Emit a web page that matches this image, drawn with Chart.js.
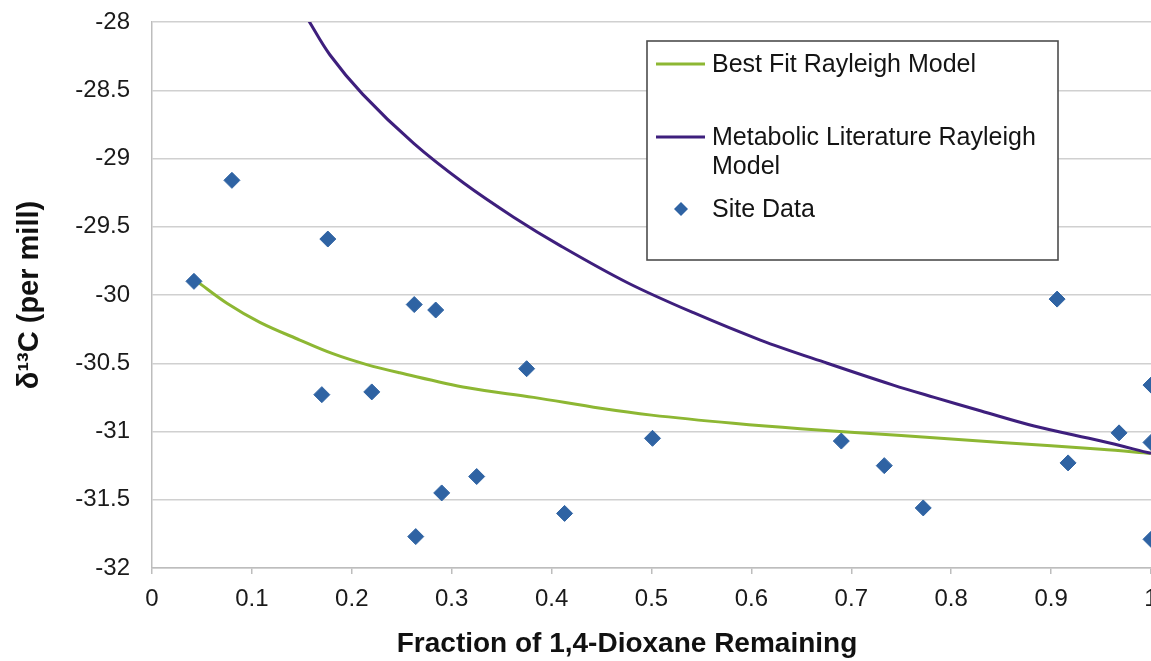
<!DOCTYPE html>
<html><head><meta charset="utf-8">
<script src="https://cdn.jsdelivr.net/npm/chart.js@4/dist/chart.umd.min.js"></script>
<style>
html,body{margin:0;padding:0;background:#fff;overflow:hidden;}
#wrap{position:relative;width:1160px;height:661px;}
</style></head><body>
<div id="wrap"><canvas id="c"></canvas></div>
<script>
// ---- data ----
const siteX = [0.042, 0.080, 0.176, 0.170, 0.220, 0.2625, 0.284, 0.264, 0.290, 0.325, 0.375, 0.413, 0.501, 0.690, 0.733, 0.772, 0.906, 0.917, 0.968, 1.0, 1.0, 1.0];
const siteY = [-29.90, -29.16, -29.59, -30.73, -30.71, -30.07, -30.11, -31.77, -31.45, -31.33, -30.54, -31.60, -31.05, -31.07, -31.25, -31.56, -30.03, -31.23, -31.01, -30.66, -31.08, -31.79];

const fitX = [0.045, 0.075, 0.108, 0.148, 0.181, 0.215, 0.248, 0.316, 0.382, 0.449, 0.500, 0.582, 0.649, 0.750, 0.850, 0.950, 1.000];
const fitY = [-29.90, -30.06, -30.20, -30.33, -30.43, -30.51, -30.57, -30.68, -30.75, -30.83, -30.88, -30.94, -30.98, -31.03, -31.08, -31.13, -31.16];

const litX = [0.156, 0.178, 0.211, 0.262, 0.312, 0.362, 0.409, 0.476, 0.542, 0.609, 0.676, 0.742, 0.783, 0.830, 0.883, 0.950, 1.000];
const litY = [-27.98, -28.24, -28.53, -28.89, -29.18, -29.43, -29.64, -29.91, -30.13, -30.33, -30.50, -30.66, -30.75, -30.85, -30.96, -31.07, -31.16];

const xTickValues = [0, 0.1, 0.2, 0.3, 0.4, 0.5, 0.6, 0.7, 0.8, 0.9, 1];
const yTickValues = [-32, -31.5, -31, -30.5, -30, -29.5, -29, -28.5, -28];

const seriesNames = ['Best Fit Rayleigh Model', 'Metabolic Literature Rayleigh Model', 'Site Data'];
const legendLines = [['Best Fit Rayleigh Model'], ['Metabolic Literature Rayleigh', 'Model'], ['Site Data']];
const xTitle = 'Fraction of 1,4-Dioxane Remaining';
const yTitle = 'δ¹³C (per mill)';

const GREEN = '#8db733';
const PURPLE = '#3e1f7d';
const BLUE = '#2f63a3';
const FONT = '"Liberation Sans", Arial, sans-serif';

const pts = (xs, ys) => xs.map((x, i) => ({x: x, y: ys[i]}));

function diamond(ctx, x, y, r) {
  ctx.beginPath();
  ctx.moveTo(x, y - r); ctx.lineTo(x + r, y); ctx.lineTo(x, y + r); ctx.lineTo(x - r, y);
  ctx.closePath(); ctx.fill();
}

const boxLegend = {
  id: 'boxLegend',
  afterDraw(chart) {
    const ctx = chart.ctx;
    ctx.save();
    // x-axis title (Excel centres it slightly left of the plot centre)
    ctx.font = 'bold 28px ' + FONT;
    ctx.fillStyle = '#111';
    ctx.textAlign = 'center';
    ctx.textBaseline = 'alphabetic';
    ctx.fillText(xTitle, 627, 652);
    // legend box
    ctx.fillStyle = '#ffffff';
    ctx.fillRect(647, 41, 411, 219);
    ctx.strokeStyle = '#4d4d4d';
    ctx.lineWidth = 1.6;
    ctx.strokeRect(647, 41, 411, 219);
    ctx.font = '25px ' + FONT;
    ctx.fillStyle = '#141414';
    ctx.textBaseline = 'middle';
    ctx.textAlign = 'left';
    ctx.strokeStyle = GREEN; ctx.lineWidth = 3;
    ctx.beginPath(); ctx.moveTo(656, 64); ctx.lineTo(705, 64); ctx.stroke();
    ctx.fillText(legendLines[0][0], 712, 65);
    ctx.strokeStyle = PURPLE; ctx.lineWidth = 3;
    ctx.beginPath(); ctx.moveTo(656, 137); ctx.lineTo(705, 137); ctx.stroke();
    ctx.fillText(legendLines[1][0], 712, 138);
    ctx.fillText(legendLines[1][1], 712, 167);
    ctx.fillStyle = BLUE;
    diamond(ctx, 681, 209, 7);
    ctx.fillStyle = '#141414';
    ctx.fillText(legendLines[2][0], 712, 210);
    ctx.restore();
  }
};

new Chart(document.getElementById('c'), {
  type: 'scatter',
  data: {
    datasets: [
      { label: seriesNames[0], data: pts(fitX, fitY), showLine: true, borderColor: GREEN, borderWidth: 3,
        pointRadius: 0, pointHoverRadius: 0, tension: 0.35, fill: false, order: 2 },
      { label: seriesNames[1], data: pts(litX, litY), showLine: true, borderColor: PURPLE, borderWidth: 3,
        pointRadius: 0, pointHoverRadius: 0, tension: 0.35, fill: false, order: 1 },
      { label: seriesNames[2], data: pts(siteX, siteY), showLine: false, pointStyle: 'rectRot',
        pointRadius: 8, pointHoverRadius: 8, backgroundColor: BLUE, borderColor: BLUE, borderWidth: 1, order: 0 }
    ]
  },
  options: {
    responsive: true,
    maintainAspectRatio: false,
    animation: false,
    events: [],
    layout: { padding: { top: 22, left: 0, right: 1, bottom: 0 } },
    plugins: { legend: { display: false }, tooltip: { enabled: false } },
    scales: {
      x: {
        type: 'linear', min: 0, max: 1,
        afterBuildTicks: (s) => { s.ticks = xTickValues.map(v => ({value: v})); },
        afterFit: (s) => { s.height = 93; s.paddingLeft = 0; s.paddingRight = 0; },
        grid: { display: true, drawOnChartArea: false, drawTicks: true, tickLength: 6, color: '#bdbdbd', lineWidth: 1.5 },
        border: { display: true, color: '#bdbdbd', width: 1.5 },
        ticks: { padding: 11, color: '#1a1a1a', font: { family: FONT, size: 24 }, maxRotation: 0,
          callback: (v) => String(v) },
        title: { display: false, text: xTitle }
      },
      y: {
        type: 'linear', min: -32, max: -28,
        afterBuildTicks: (s) => { s.ticks = yTickValues.map(v => ({value: v})); },
        afterFit: (s) => { s.width = 152; s.paddingTop = 0; s.paddingBottom = 0; },
        grid: { display: true, drawTicks: false, color: '#d0d0d0', lineWidth: 1.5 },
        border: { display: true, color: '#bdbdbd', width: 1.5 },
        ticks: { padding: 22, color: '#1a1a1a', font: { family: FONT, size: 24 }, callback: (v) => String(v) },
        title: { display: true, text: yTitle, color: '#111', padding: { top: 13, bottom: 0 },
          font: { family: FONT, size: 29, weight: 'bold' } }
      }
    }
  },
  plugins: [boxLegend]
});
</script>
</body></html>
